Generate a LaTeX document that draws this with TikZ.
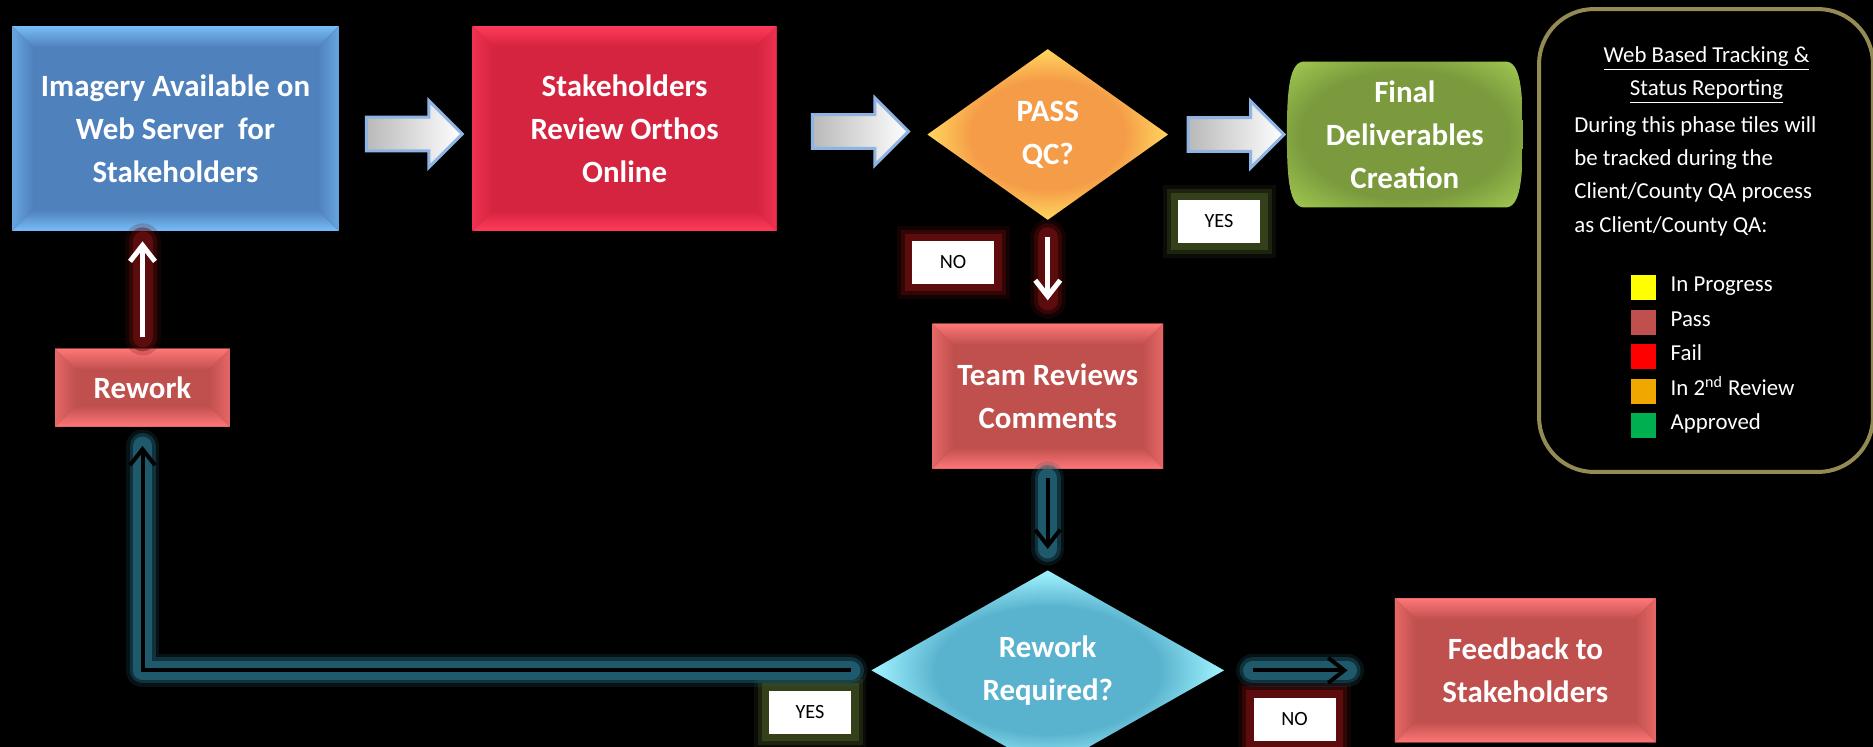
\documentclass[tikz,border=0pt]{standalone}
\usepackage{fontspec}
\setmainfont{Carlito}
\usepackage{tikz}
\usetikzlibrary{shapes.geometric, shapes.arrows, arrows.meta, positioning, calc}

\definecolor{bluebase}{HTML}{4F81BD}
\definecolor{blueedge}{HTML}{78BDF7}
\definecolor{crimbase}{HTML}{D42440}
\definecolor{crimedge}{HTML}{FF3A5A}
\definecolor{rosebase}{HTML}{C0504D}
\definecolor{roseedge}{HTML}{FF7777}
\definecolor{qcinner}{HTML}{F59C48}
\definecolor{qcouter}{HTML}{FFD05C}
\definecolor{rwinner}{HTML}{5AB3CE}
\definecolor{rwouter}{HTML}{9AEEFB}
\definecolor{finaledge}{HTML}{9FC650}
\definecolor{finalmid}{HTML}{7A9A3D}
\definecolor{arrowrim}{HTML}{8DB4E2}
\definecolor{glowred}{HTML}{5C0C0C}
\definecolor{glowteal}{HTML}{1E5A6C}
\definecolor{glowolive}{HTML}{33401A}
\definecolor{legrim}{HTML}{948A54}
\definecolor{legyellow}{HTML}{FFFF00}
\definecolor{legpass}{HTML}{C0504D}
\definecolor{legfail}{HTML}{FF0000}
\definecolor{legorange}{HTML}{F0A800}
\definecolor{leggreen}{HTML}{00B050}

\pgfdeclareradialshading{qcshade}{\pgfpoint{0bp}{0bp}}{color(0bp)=(qcinner); color(16bp)=(qcinner); color(24bp)=(qcouter); color(50bp)=(qcouter)}
\pgfdeclareradialshading{rwshade}{\pgfpoint{0bp}{0bp}}{color(0bp)=(rwinner); color(16bp)=(rwinner); color(24bp)=(rwouter); color(50bp)=(rwouter)}
\pgfdeclareradialshading{finalshade}{\pgfpoint{0bp}{0bp}}{color(0bp)=(finalmid); color(22bp)=(finalmid); color(34bp)=(finaledge); color(50bp)=(finaledge)}

\newcommand{\boxfont}{\fontsize{17.6}{24.5}\selectfont\bfseries}
\newcommand{\legfont}{\fontsize{13}{19}\selectfont}
\newcommand{\tagfont}{\fontsize{11.5}{14}\selectfont}

% bevelled edges of the process boxes
\newcommand{\bevelfaces}[2]{%
  \coordinate (pnw) at (path picture bounding box.north west);
  \coordinate (pne) at (path picture bounding box.north east);
  \coordinate (psw) at (path picture bounding box.south west);
  \coordinate (pse) at (path picture bounding box.south east);
  \fill[top color=#1, bottom color=#2] (pnw) -- (pne) -- ([shift={(-0.42cm,-0.42cm)}]pne) -- ([shift={(0.42cm,-0.42cm)}]pnw) -- cycle;
  \fill[top color=#2, bottom color=#1] (psw) -- (pse) -- ([shift={(-0.42cm,0.42cm)}]pse) -- ([shift={(0.42cm,0.42cm)}]psw) -- cycle;
  \fill[left color=#1!60!#2, right color=#2] (pnw) -- (psw) -- ([shift={(0.42cm,0.42cm)}]psw) -- ([shift={(0.42cm,-0.42cm)}]pnw) -- cycle;
  \fill[left color=#2, right color=#1!60!#2] (pne) -- (pse) -- ([shift={(-0.42cm,0.42cm)}]pse) -- ([shift={(-0.42cm,-0.42cm)}]pne) -- cycle;
}

% barrel outline of the terminal box
\newcommand{\barrelface}{%
  \coordinate (pnw) at (path picture bounding box.north west);
  \coordinate (pne) at (path picture bounding box.north east);
  \coordinate (psw) at (path picture bounding box.south west);
  \coordinate (pse) at (path picture bounding box.south east);
  \coordinate (pe) at ($(pne)!0.5!(pse)$);
  \coordinate (pw) at ($(pnw)!0.5!(psw)$);
  \shade[shading=finalshade] ([xshift=0.35cm]pnw) -- ([xshift=-0.35cm]pne)
    .. controls ([xshift=-0.05cm]pne) and ([yshift=0.9cm]pe) .. (pe)
    .. controls ([yshift=-0.9cm]pe) and ([xshift=-0.05cm]pse) .. ([xshift=-0.35cm]pse)
    -- ([xshift=0.35cm]psw)
    .. controls ([xshift=0.05cm]psw) and ([yshift=-0.9cm]pw) .. (pw)
    .. controls ([yshift=0.9cm]pw) and ([xshift=0.05cm]pnw) .. ([xshift=0.35cm]pnw) -- cycle;
}

\begin{document}
\begin{tikzpicture}[x=0.02cm, y=-0.02cm, node distance=2cm, >={Straight Barb[length=0.32cm,width=0.5cm]}]
    \tikzstyle{block} = [rectangle, text=white, font=\boxfont, align=center, inner sep=0pt]
    \tikzstyle{bluebox} = [block, fill=bluebase, path picture={\bevelfaces{blueedge}{bluebase}}]
    \tikzstyle{crimbox} = [block, fill=crimbase, path picture={\bevelfaces{crimedge}{crimbase}}]
    \tikzstyle{rosebox} = [block, fill=rosebase, path picture={\bevelfaces{roseedge}{rosebase}}]
    \tikzstyle{finalbox} = [block, path picture={\barrelface}]
    \tikzstyle{decision} = [diamond, text=white, font=\boxfont, align=center, inner sep=0pt]
    \tikzstyle{blockarrow} = [single arrow, draw=arrowrim, line width=0.06cm, left color=gray!55, right color=white, minimum height=1.92cm, inner xsep=0pt, inner ysep=0.31cm, single arrow head extend=0.33cm]
    \tikzstyle{tag} = [rectangle, fill=white, text=black, font=\tagfont, minimum width=1.64cm, minimum height=0.86cm, inner sep=0pt]
    \tikzstyle{yesglow} = [preaction={draw=glowolive, line width=0.62cm, rounded corners=0.3cm, opacity=0.2}, preaction={draw=glowolive, line width=0.46cm, rounded corners=0.2cm, opacity=0.45}, preaction={draw=glowolive, line width=0.3cm, rounded corners=0.1cm}]
    \tikzstyle{noglow} = [preaction={draw=glowred, line width=0.62cm, rounded corners=0.3cm, opacity=0.2}, preaction={draw=glowred, line width=0.46cm, rounded corners=0.2cm, opacity=0.45}, preaction={draw=glowred, line width=0.3cm, rounded corners=0.1cm}]
    \tikzstyle{whitearrow} = [->, draw=white, line width=0.1cm, preaction={draw=glowred, line width=0.72cm, line cap=round, opacity=0.2, -}, preaction={draw=glowred, line width=0.56cm, line cap=round, opacity=0.45, -}, preaction={draw=glowred, line width=0.4cm, line cap=round, -}]
    \tikzstyle{blackarrow} = [->, draw=black, line width=0.08cm, preaction={draw=glowteal, line width=0.66cm, line cap=round, line join=round, opacity=0.2, -}, preaction={draw=glowteal, line width=0.52cm, line cap=round, line join=round, opacity=0.45, -}, preaction={draw=glowteal, line width=0.38cm, line cap=round, line join=round, -}]
    \tikzstyle{legtext} = [text=white, font=\legfont, inner sep=0pt]
    \tikzstyle{legsquare} = [rectangle, minimum size=0.5cm, inner sep=0pt]

    \fill[black] (0,0) rectangle (1873,747);
    \useasboundingbox (0,0) rectangle (1873,747);

    % process chain
    \node[bluebox, minimum width=6.54cm, minimum height=4.1cm] (imagery) at (175.5,128.5) {Imagery Available on\\Web Server~ for\\Stakeholders};
    \node[crimbox, minimum width=6.08cm, minimum height=4.1cm, right=2.66cm of imagery] (review) {Stakeholders\\Review Orthos\\Online};
    \node[decision, shading=qcshade, minimum width=4.82cm, minimum height=3.42cm, right=3cm of review, yshift=-0.12cm] (passqc) {PASS\\QC?};
    \node[finalbox, minimum width=4.72cm, minimum height=2.92cm, right=2.36cm of passqc] (final) {Final\\Deliverables\\Creation};
    \node[rosebox, minimum width=4.62cm, minimum height=2.9cm, below=2.06cm of passqc] (team) {Team Reviews\\Comments};
    \node[decision, shading=rwshade, minimum width=7.06cm, minimum height=3.56cm, below=2.02cm of team] (rewreq) {Rework\\Required?};
    \node[rosebox, minimum width=5.22cm, minimum height=2.88cm, right=3.4cm of rewreq] (feedback) {Feedback to\\Stakeholders};
    \node[rosebox, minimum width=3.5cm, minimum height=1.56cm, below=2.34cm of imagery, xshift=-0.66cm] (rework) {Rework};

    % hollow block arrows
    \node[blockarrow, yshift=-0.11cm] (arr1) at ($(imagery.east)!0.5!(review.west)$) {};
    \node[blockarrow] (arr2) at ($(review.east)!0.5!(passqc.west)$) {};
    \node[blockarrow] (arr3) at ($(passqc.east)!0.5!(final.west)$) {};

    % yes / no tags
    \node[tag, yesglow] (yes1) at (1219,221.5) {YES};
    \node[tag, noglow] (no1) at (953,262.5) {NO};
    \node[tag, yesglow] (yes2) at (810,712) {YES};
    \node[tag, noglow] (no2) at (1294.5,719) {NO};

    % connectors
    \draw[whitearrow, shorten <=0.34cm, shorten >=0.46cm] (passqc.south) -- (team.north);
    \draw[whitearrow, shorten <=0.22cm, shorten >=0.2cm] (rework.north) -- (rework.north |- imagery.south);
    \draw[blackarrow, shorten <=0.18cm, shorten >=0.42cm] (team.south) -- (rewreq.north);
    \draw[blackarrow, shorten <=0.56cm, shorten >=0.94cm] (rewreq.east) -- (feedback.west);
    \draw[blackarrow, shorten <=0.4cm, shorten >=0.38cm] (rewreq.west) -| (rework.south);

    % status legend
    \node[rectangle, rounded corners=1.1cm, draw=legrim, line width=0.08cm, minimum width=6.68cm, minimum height=9.26cm] (legend) at (1706,240.5) {};
    \node[legtext, align=center] (legtitle) at (1706.5,75) {\underline{Web Based Tracking \&}\\\underline{Status Reporting}};
    \node[legtext, align=left, anchor=west] (legbody) at (1574,176) {During this phase tiles will\\be tracked during the\\Client/County QA process\\as Client/County QA:};
    \foreach \col/\lab [count=\i] in {legyellow/In Progress, legpass/Pass, legfail/Fail, legorange/{In 2\textsuperscript{nd} Review}, leggreen/Approved} {
        \node[legsquare, fill=\col] (sq\i) at (1643.5, {253+34.5*\i}) {};
        \node[legtext, right=0.28cm of sq\i.east, anchor=mid west] (item\i) {\lab};
    }
\end{tikzpicture}
\end{document}
